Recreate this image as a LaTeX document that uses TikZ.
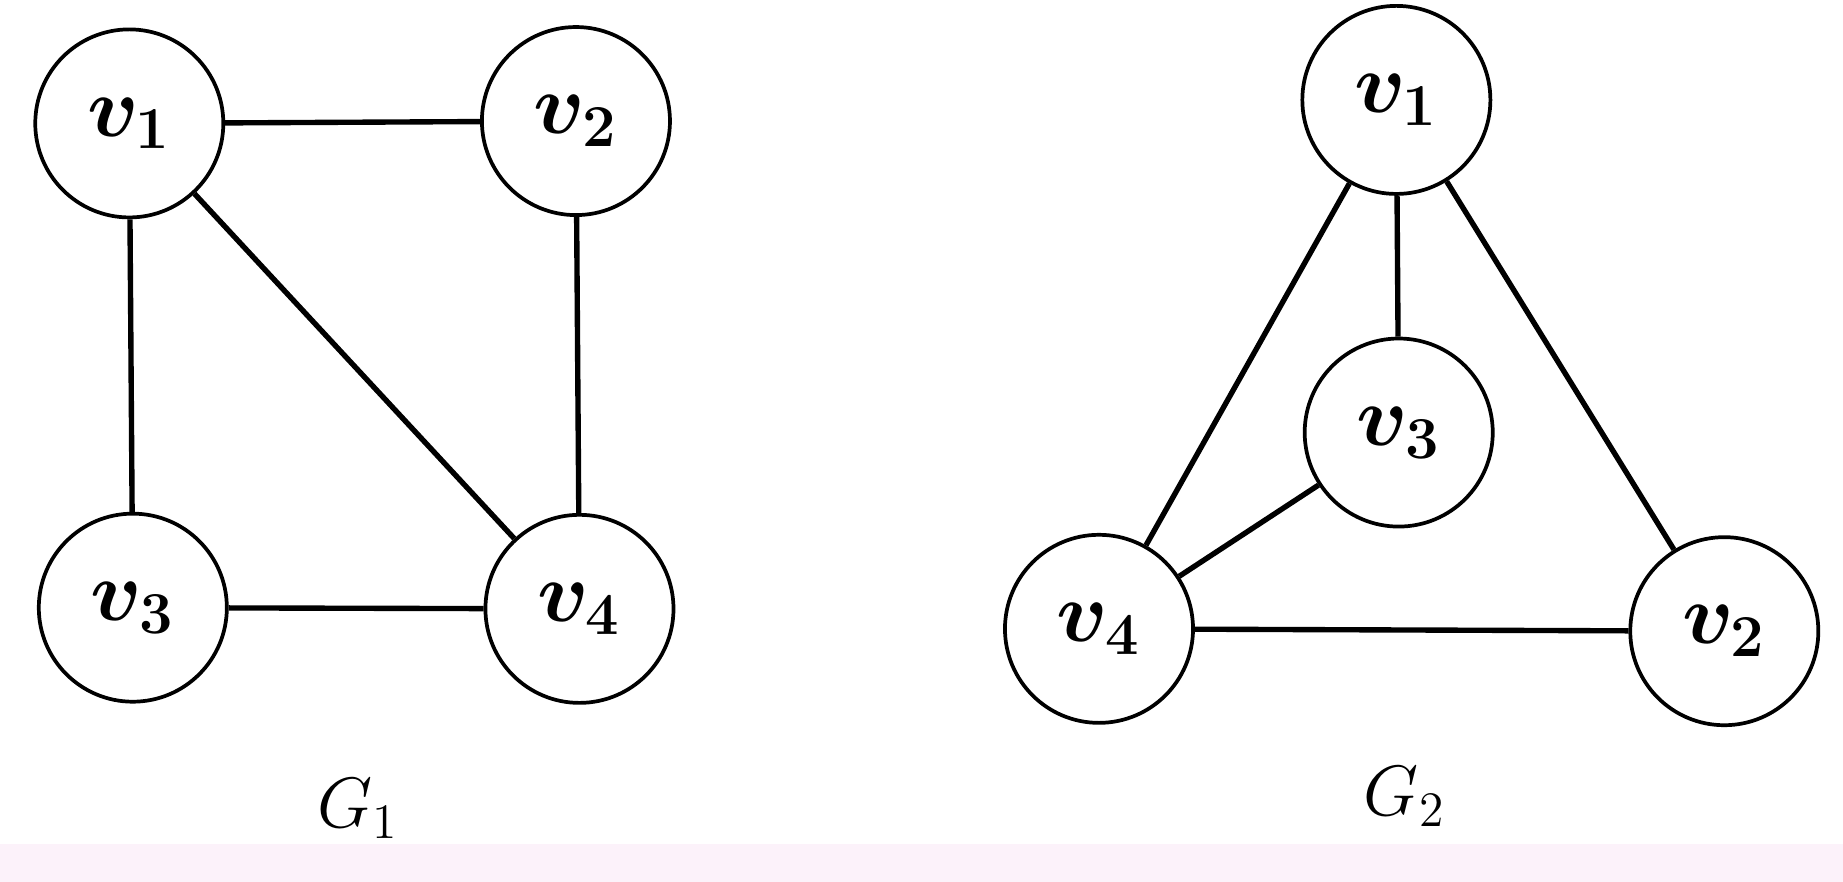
\documentclass[tikz,border=0pt]{standalone}
\usepackage{amsmath}
\usepackage{amssymb}
\usepackage{bm}
\usetikzlibrary{positioning}
\definecolor{bandpink}{RGB}{252,242,250}

\begin{document}
\begin{tikzpicture}[
    vertex/.style={circle, draw, line width=0.9pt, minimum size=1.6cm, inner sep=0pt,
                   font=\fontsize{21}{24}\selectfont},
    edge/.style={line width=1.3pt},
    glabel/.style={font=\fontsize{18}{22}\selectfont}]
    % page and band
        \useasboundingbox (0,0) rectangle (15.68,7.50);
        \fill[bandpink] (0,0) rectangle (15.68,0.32);
    % first graph
        \node[vertex] (a1) at (1.10,6.45) {$\bm{v}_{\mathbf{1}}$};
        \node[vertex] (a2) at (4.90,6.47) {$\bm{v}_{\mathbf{2}}$};
        \node[vertex] (a3) at (1.13,2.33) {$\bm{v}_{\mathbf{3}}$};
        \node[vertex] (a4) at (4.93,2.32) {$\bm{v}_{\mathbf{4}}$};
        \node[glabel] (g1) at (3.05,0.62) {$G_1$};
    % second graph
        \node[vertex] (b1) at (11.88,6.65) {$\bm{v}_{\mathbf{1}}$};
        \node[vertex] (b3) at (11.90,3.82) {$\bm{v}_{\mathbf{3}}$};
        \node[vertex] (b4) at (9.35,2.15) {$\bm{v}_{\mathbf{4}}$};
        \node[vertex] (b2) at (14.67,2.13) {$\bm{v}_{\mathbf{2}}$};
        \node[glabel] (g2) at (11.95,0.72) {$G_2$};

 \draw[edge]
        (a1) -- (a2)
        (a1) -- (a3)
        (a1) -- (a4)
        (a2) -- (a4)
        (a3) -- (a4)
        (b1) -- (b3)
        (b1) -- (b4)
        (b1) -- (b2)
        (b3) -- (b4)
        (b4) -- (b2);
\end{tikzpicture}
\end{document}
